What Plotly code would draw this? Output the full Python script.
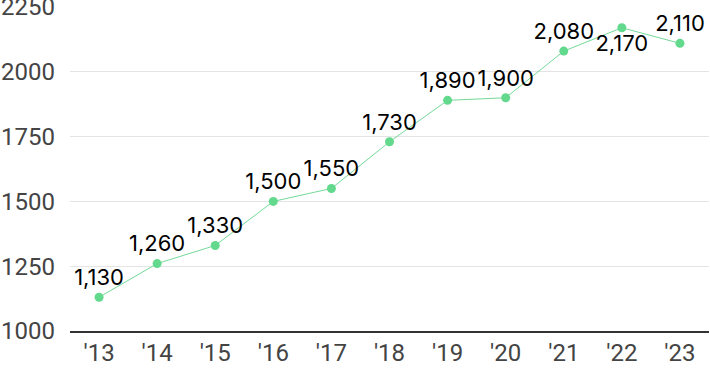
import plotly.graph_objects as go

years = ["'13", "'14", "'15", "'16", "'17", "'18", "'19", "'20", "'21", "'22", "'23"]
values = [1130, 1260, 1330, 1500, 1550, 1730, 1890, 1900, 2080, 2170, 2110]
label_pos = ["top center"] * 9 + ["bottom center", "top center"]
y_ticks = [1000, 1250, 1500, 1750, 2000, 2250]

fig = go.Figure(go.Scatter(
    x=years, y=values, mode="lines+markers+text",
    line=dict(color="#74d998", width=1),
    marker=dict(color="#62d98c", size=9),
    text=[f"{v:,}" for v in values], textposition=label_pos,
    textfont=dict(family="Inter", size=22, color="#000"),
    cliponaxis=False, hoverinfo="skip",
))
fig.update_layout(
    width=710, height=371, margin=dict(l=70, r=1, t=7, b=40, autoexpand=False),
    plot_bgcolor="white", paper_bgcolor="white", showlegend=False,
    xaxis=dict(type="category", range=[-0.5, 10.5], showgrid=False, showline=True,
               linecolor="#333", linewidth=1.5, ticks="", automargin=False,
               tickfont=dict(family="Roboto", size=24, color="#444")),
    yaxis=dict(range=[999.9, 2250.2], tickvals=y_ticks, showgrid=True, gridcolor="#e4e4e4",
               zeroline=False, ticks="", automargin=False, ticklabeloverflow="allow",
               tickfont=dict(family="Roboto", size=24, color="#444"),
               ticklabelstandoff=14),
)
fig.write_html("out.html", config={"displayModeBar": False, "staticPlot": True})
with open("out.html", encoding="utf-8") as f:
    html = f.read()
html = html.replace("<head>", "<head><style>html,body{margin:0;padding:0;overflow:hidden}</style>", 1)
with open("out.html", "w", encoding="utf-8") as f:
    f.write(html)
